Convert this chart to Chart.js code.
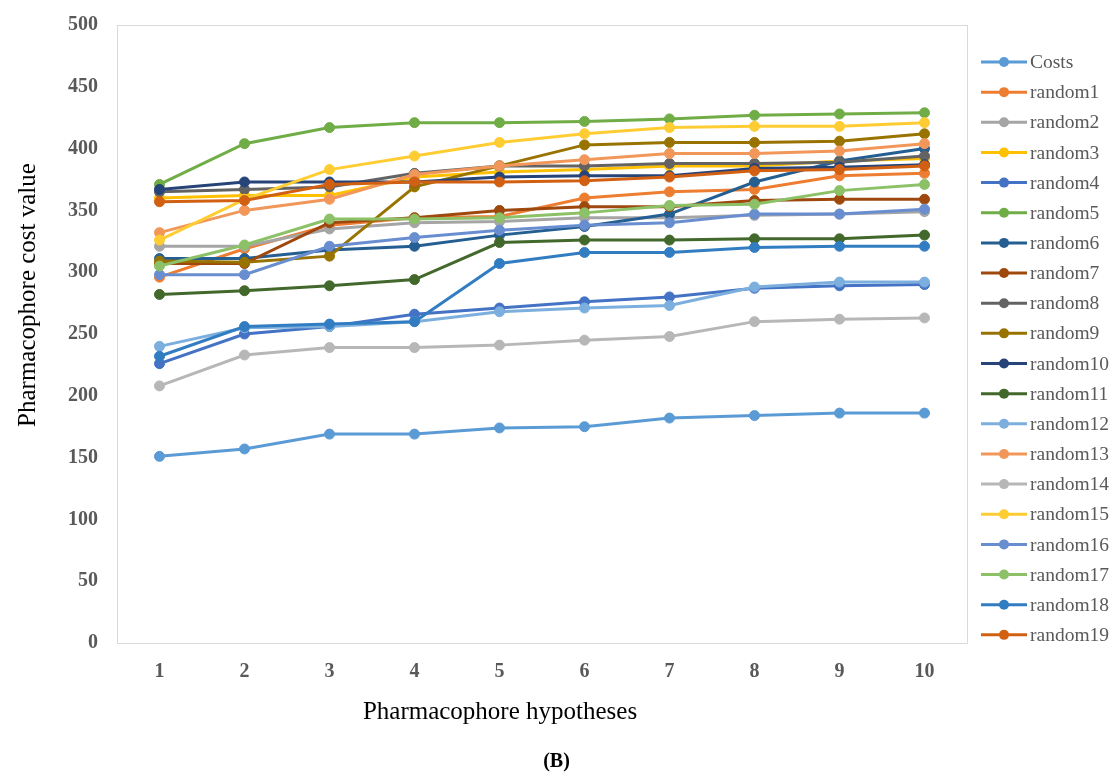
<!DOCTYPE html>
<html>
<head>
<meta charset="utf-8">
<script src="https://cdn.jsdelivr.net/npm/chart.js@4"></script>
<style>
    body { margin: 0; background: #ffffff; }
    #wrap { width: 1113px; height: 782px; position: relative; }
</style>
</head>
<body>
<div id="wrap"><canvas id="cost_chart"></canvas></div>
<script>
    // values
    var categories = ['1', '2', '3', '4', '5', '6', '7', '8', '9', '10'];
    var costs    = [151, 157, 169, 169, 174, 175, 182, 184, 186, 186];
    var random1  = [296, 319, 338, 344, 345, 360, 365, 367, 378, 380];
    var random2  = [321, 321, 335, 340, 341, 344, 344, 346, 347, 349];
    var random3  = [360, 362, 362, 377, 381, 383, 386, 386, 390, 392];
    var random4  = [226, 250, 256, 266, 271, 276, 280, 287, 289, 290];
    var random5  = [371, 404, 417, 421, 421, 422, 424, 427, 428, 429];
    var random6  = [311, 311, 318, 321, 330, 337, 347, 373, 390, 400];
    var random7  = [307, 307, 340, 344, 350, 353, 353, 358, 359, 359];
    var random8  = [365, 367, 369, 380, 386, 386, 388, 388, 389, 394];
    var random9  = [309, 308, 313, 369, 386, 403, 405, 405, 406, 412];
    var random10 = [367, 373, 373, 373, 377, 378, 378, 384, 385, 387];
    var random11 = [282, 285, 289, 294, 324, 326, 326, 327, 327, 330];
    var random12 = [240, 255, 256, 260, 268, 271, 273, 288, 292, 292];
    var random13 = [332, 350, 359, 379, 386, 391, 396, 396, 398, 404];
    var random14 = [208, 233, 239, 239, 241, 245, 248, 260, 262, 263];
    var random15 = [326, 359, 383, 394, 405, 412, 417, 418, 418, 421];
    var random16 = [298, 298, 321, 328, 334, 338, 340, 347, 347, 351];
    var random17 = [305, 322, 343, 343, 344, 348, 354, 355, 366, 371];
    var random18 = [232, 256, 258, 260, 307, 316, 316, 320, 321, 321];
    var random19 = [357, 358, 371, 373, 373, 374, 377, 382, 383, 386];
    var yTicks = [0, 50, 100, 150, 200, 250, 300, 350, 400, 450, 500];

    var seriesNames = ['Costs', 'random1', 'random2', 'random3', 'random4', 'random5', 'random6',
        'random7', 'random8', 'random9', 'random10', 'random11', 'random12', 'random13',
        'random14', 'random15', 'random16', 'random17', 'random18', 'random19'];
    var seriesValues = [costs, random1, random2, random3, random4, random5, random6, random7,
        random8, random9, random10, random11, random12, random13, random14, random15,
        random16, random17, random18, random19];
    var seriesColors = ['#5B9BD5', '#ED7D31', '#A5A5A5', '#FFC000', '#4472C4', '#70AD47',
        '#255E91', '#9E480E', '#636363', '#997300', '#264478', '#43682B', '#7CAFDD',
        '#F1975A', '#B7B7B7', '#FFCD33', '#698ED0', '#8CC168', '#327DC2', '#D26012'];

    var serif = "'Liberation Serif', 'Times New Roman', serif";

    var datasets = seriesNames.map(function (name, i) {
        return {
            label: name,
            data: seriesValues[i],
            borderColor: seriesColors[i],
            backgroundColor: seriesColors[i],
            borderWidth: 3,
            pointRadius: 5,
            pointBorderWidth: 1,
            pointBorderColor: seriesColors[i],
            tension: 0,
            fill: false,
            // excel paints the last series on top
            order: seriesNames.length - 1 - i
        };
    });

    // light frame round the plot area
    var framePlugin = {
        id: 'plotFrame',
        beforeDatasetsDraw: function (chart) {
            var a = chart.chartArea;
            var ctx = chart.ctx;
            ctx.save();
            ctx.strokeStyle = '#D9D9D9';
            ctx.lineWidth = 1;
            ctx.strokeRect(a.left + 0.5, a.top + 0.5, a.right - a.left, a.bottom - a.top);
            ctx.restore();
        }
    };

    // excel-like legend on the right, axis titles (moved off-centre as in the original) and panel letter
    var sideLegend = {
        id: 'sideLegend',
        afterDraw: function (chart) {
            var ctx = chart.ctx;
            var x0 = chart.chartArea.right + 14;
            ctx.save();
            chart.data.datasets.forEach(function (ds, i) {
                var y = 62 + i * 30.15;
                ctx.strokeStyle = ds.borderColor;
                ctx.lineWidth = 3;
                ctx.beginPath();
                ctx.moveTo(x0, y);
                ctx.lineTo(x0 + 46, y);
                ctx.stroke();
                ctx.fillStyle = ds.borderColor;
                ctx.beginPath();
                ctx.arc(x0 + 23, y, 5, 0, Math.PI * 2);
                ctx.fill();
                ctx.fillStyle = '#595959';
                ctx.font = '19.5px ' + serif;
                ctx.textAlign = 'left';
                ctx.textBaseline = 'middle';
                ctx.fillText(ds.label, x0 + 49, y + 1);
            });

            ctx.fillStyle = '#000000';
            ctx.textAlign = 'center';
            ctx.textBaseline = 'middle';
            ctx.font = '25px ' + serif;
            ctx.fillText('Pharmacophore hypotheses', 500, 712);

            ctx.save();
            ctx.translate(28, 295);
            ctx.rotate(-Math.PI / 2);
            ctx.fillText('Pharmacophore cost value', 0, 0);
            ctx.restore();

            ctx.font = 'bold 20px ' + serif;
            ctx.fillText('(B)', chart.width / 2, 762);
            ctx.restore();
        }
    };

    new Chart(document.getElementById('cost_chart'), {
        type: 'line',
        data: {
            labels: categories,
            datasets: datasets
        },
        options: {
            responsive: true,
            maintainAspectRatio: false,
            animation: false,
            layout: {
                padding: { left: 0, right: 146, top: 25, bottom: 0 }
            },
            plugins: {
                legend: { display: false },
                tooltip: { enabled: false }
            },
            scales: {
                x: {
                    offset: true,
                    grid: { display: false, drawTicks: false },
                    border: { display: false },
                    ticks: {
                        color: '#595959',
                        padding: 17,
                        font: { family: serif, size: 20, weight: 'bold' }
                    },
                    afterFit: function (scale) { scale.height = 139; }
                },
                y: {
                    min: 0,
                    max: 500,
                    afterBuildTicks: function (scale) {
                        scale.ticks = yTicks.map(function (v) { return { value: v }; });
                    },
                    grid: { display: false, drawTicks: false },
                    border: { display: false },
                    ticks: {
                        color: '#595959',
                        padding: 19,
                        font: { family: serif, size: 20, weight: 'bold' }
                    },
                    afterFit: function (scale) {
                        scale.width = 117;
                        // tick padding should not push the plot top down
                        scale.paddingTop = 12;
                        scale.paddingBottom = 12;
                    }
                }
            }
        },
        plugins: [framePlugin, sideLegend]
    });
</script>
</body>
</html>
